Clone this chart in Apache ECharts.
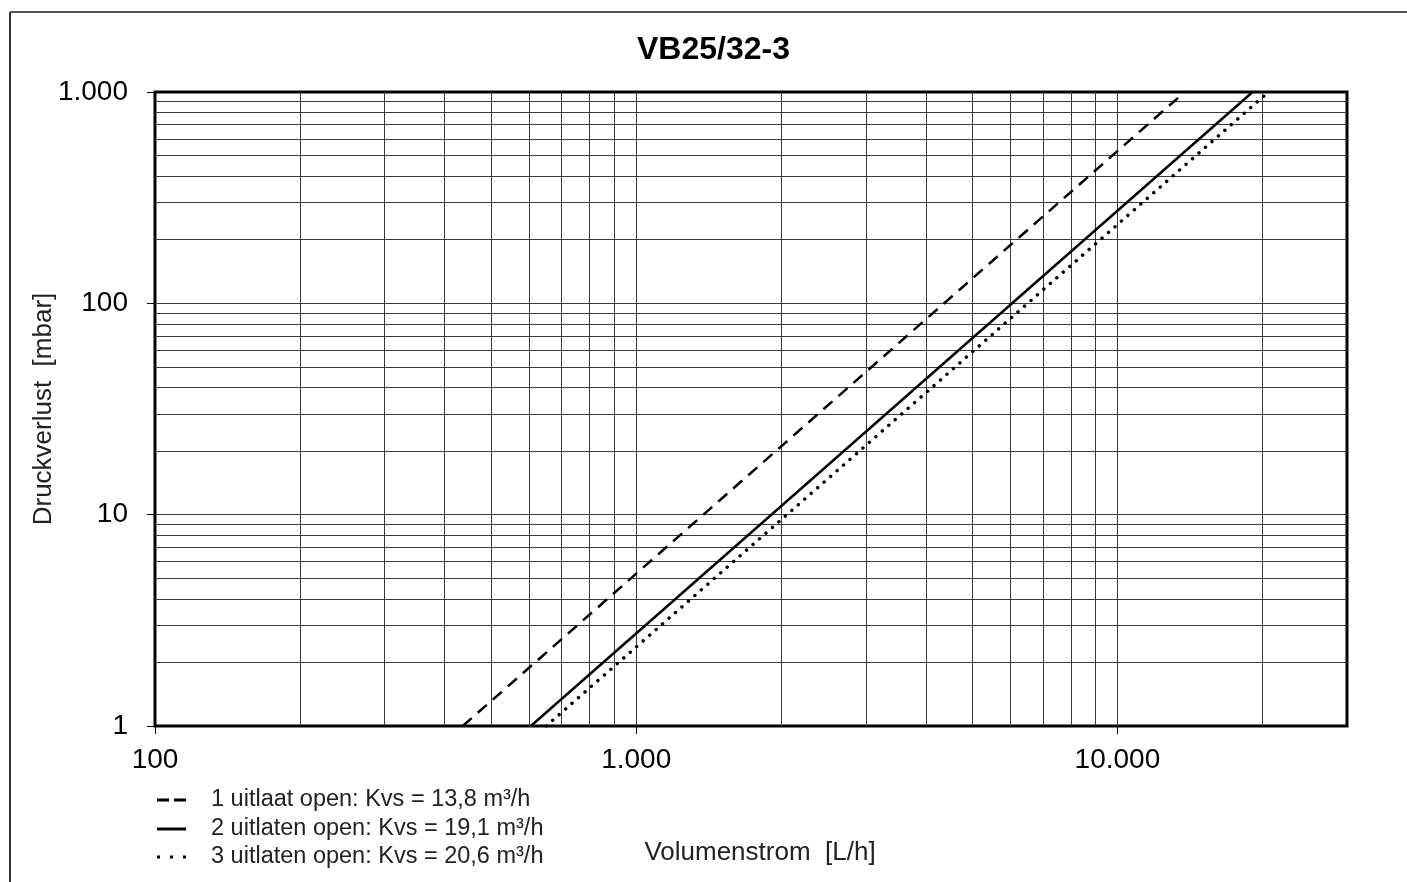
<!DOCTYPE html>
<html>
<head>
<meta charset="utf-8">
<script src="https://cdn.jsdelivr.net/npm/echarts@6/dist/echarts.min.js"></script>
<style>
html,body{margin:0;padding:0;background:#fff;}
#chart{width:1407px;height:882px;}
</style>
</head>
<body>
<div id="chart"></div>
<script>
// ---- data ----
const title = 'VB25/32-3';
const seriesNames = [
  '1 uitlaat open: Kvs = 13,8 m³/h',
  '2 uitlaten open: Kvs = 19,1 m³/h',
  '3 uitlaten open: Kvs = 20,6 m³/h'
];
// [Volumenstrom L/h, Druckverlust mbar] end points of each straight (log-log) line
const dashedLine = [[436, 1], [13800, 1000]];
const solidLine  = [[604, 1], [19100, 1000]];
const dottedLine = [[650, 1], [20600, 1000]];

const xMajorTicks = [100, 1000, 10000];
const yMajorTicks = [1, 10, 100, 1000];
const xGridValues = [200,300,400,500,600,700,800,900,1000,2000,3000,4000,5000,6000,7000,8000,9000,10000,20000];
const yGridValues = [2,3,4,5,6,7,8,9,10,20,30,40,50,60,70,80,90,100,200,300,400,500,600,700,800,900];

const xName = 'Volumenstrom  [L/h]';
const yName = 'Druckverlust  [mbar]';

function fmtThousands(v) {
  return String(Math.round(v)).replace(/\B(?=(\d{3})+(?!\d))/g, '.');
}
function isMajor(list, v) {
  return list.some(t => Math.abs(t - v) / t < 1e-6);
}

const FONT = 'Liberation Sans, Arial, Helvetica, sans-serif';
const chart = echarts.init(document.getElementById('chart'), null, {renderer: 'canvas'});

const gridLineStyle = {color: '#3a3a3a', width: 1, type: 'solid'};

// legend icons (line samples) as paths
const legendIcons = [
  'path://M0,0H12V3H0Z M17,0H29V3H17Z',
  'path://M0,0H29V3H0Z',
  'path://M0,0H3V3H0Z M13,0H16V3H13Z M26,0H29V3H26Z'
];
const legendTops = [788, 817, 845];

const legends = seriesNames.map((n, i) => ({
  orient: 'vertical',
  left: 157,
  top: legendTops[i],
  padding: 0,
  itemWidth: 29,
  itemHeight: 3,
  selectedMode: false,
  textStyle: {fontFamily: FONT, fontSize: 23.5, lineHeight: 24, color: '#222', padding: [0, 0, 0, 20]},
  data: [{name: n, icon: legendIcons[i], itemStyle: {color: '#000', borderWidth: 0}}]
}));

const option = {
  animation: false,
  backgroundColor: '#fff',
  textStyle: {fontFamily: FONT},
  title: {
    text: title,
    left: 632,
    top: 29,
    textStyle: {fontFamily: FONT, fontSize: 32, fontWeight: 'bold', color: '#000'}
  },
  graphic: [
    {type: 'line', shape: {x1: 10, y1: 12, x2: 1407, y2: 12}, style: {stroke: '#555', lineWidth: 2}, silent: true},
    {type: 'line', shape: {x1: 10, y1: 12, x2: 10, y2: 882}, style: {stroke: '#333', lineWidth: 2}, silent: true}
  ],
  legend: legends,
  grid: {
    left: 155, top: 92, width: 1192, height: 634,
    show: true, borderColor: '#000', borderWidth: 3, backgroundColor: 'transparent'
  },
  xAxis: {
    type: 'log', logBase: 10, min: 100, max: 30000,
    name: xName, nameLocation: 'middle', nameGap: 114, nameMoveOverlap: false,
    nameTextStyle: {fontFamily: FONT, fontSize: 26, color: '#222', padding: [0, 0, 0, 18]},
    axisLine: {show: false},
    axisTick: {show: true, length: 8, lineStyle: {color: '#000', width: 1}, customValues: xMajorTicks},
    axisLabel: {
      fontFamily: FONT, fontSize: 28, color: '#000', margin: 20,
      customValues: xMajorTicks,
      formatter: v => isMajor(xMajorTicks, v) ? fmtThousands(v) : ''
    },
    splitLine: {show: false},
    minorTick: {show: false},
    minorSplitLine: {show: false}
  },
  yAxis: {
    type: 'log', logBase: 10, min: 1, max: 1000,
    name: yName, nameLocation: 'middle', nameGap: 98, nameMoveOverlap: false,
    nameTextStyle: {fontFamily: FONT, fontSize: 26, color: '#222'},
    axisLine: {show: false},
    axisTick: {show: true, length: 8, lineStyle: {color: '#000', width: 1}},
    axisLabel: {
      fontFamily: FONT, fontSize: 28, color: '#000', margin: 27,
      formatter: v => isMajor(yMajorTicks, v) ? fmtThousands(v) : ''
    },
    splitLine: {show: false}
  },
  series: [
    {
      name: '__grid', type: 'line', data: [], silent: true,
      markLine: {
        silent: true, symbol: ['none', 'none'], label: {show: false},
        lineStyle: gridLineStyle, animation: false,
        data: xGridValues.map(v => ({xAxis: v})).concat(yGridValues.map(v => ({yAxis: v})))
      }
    },
    {
      name: seriesNames[0], type: 'line', data: dashedLine, symbol: 'none', z: 5,
      lineStyle: {color: '#000', width: 2.5, type: [12, 8]},
      itemStyle: {color: '#000'}
    },
    {
      name: seriesNames[1], type: 'line', data: solidLine, symbol: 'none', z: 5,
      lineStyle: {color: '#000', width: 2.5, type: 'solid'},
      itemStyle: {color: '#000'}
    },
    {
      name: seriesNames[2], type: 'line', data: dottedLine, symbol: 'none', z: 5,
      lineStyle: {color: '#000', width: 3.4, type: [0.1, 8.5], cap: 'round'},
      itemStyle: {color: '#000'}
    }
  ]
};
chart.setOption(option);
</script>
</body>
</html>
